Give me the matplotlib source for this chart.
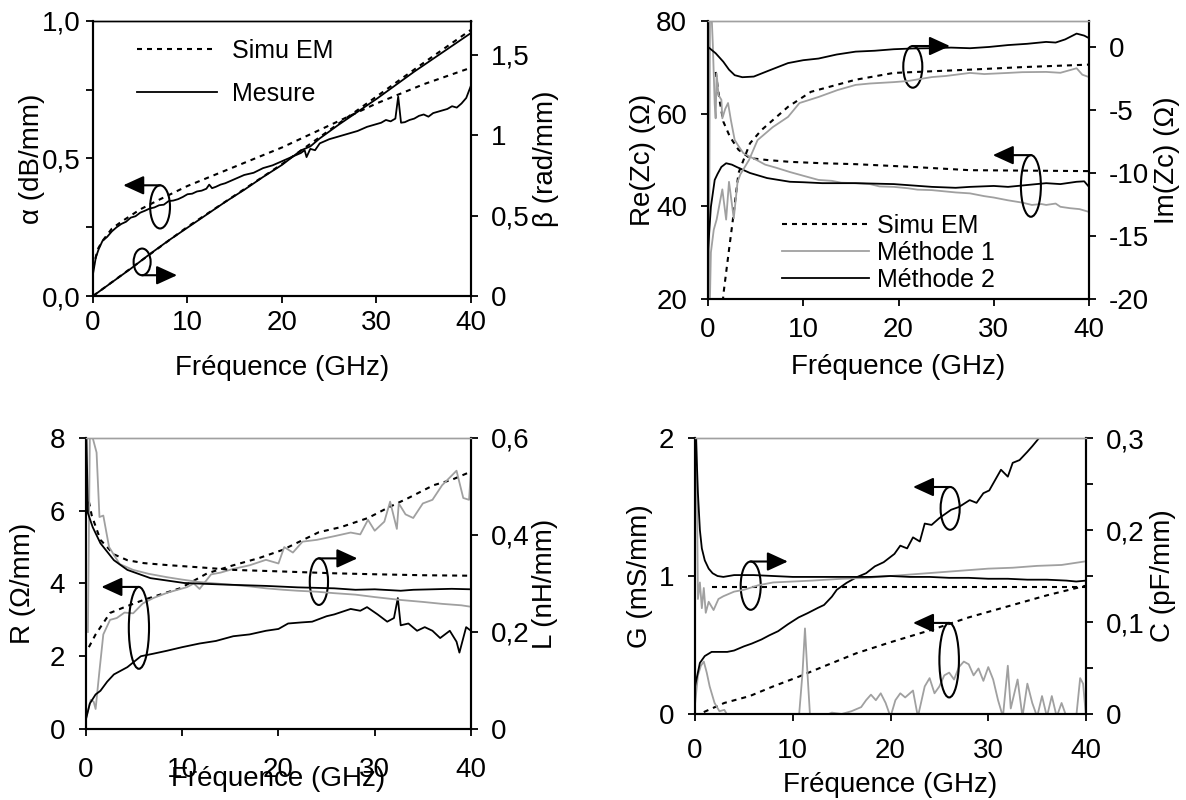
#!/usr/bin/env python3
"""Extraction des paramètres de ligne : alpha/beta, Zc, R/L, G/C (4 panneaux à double axe)."""

import matplotlib
matplotlib.use("Agg")
import matplotlib.pyplot as plt
from matplotlib.patches import Ellipse
from matplotlib.lines import Line2D
from matplotlib.ticker import FixedLocator, FixedFormatter

plt.rcParams["font.family"] = ["Liberation Sans", "DejaVu Sans"]
plt.rcParams["font.size"] = 18

GRAY = "#a0a0a0"
DASH = (2.4, 2.4)
TICK_FS = 20
LABEL_FS = 20

# ---------------- panneau 1 : alpha (dB/mm) / beta (rad/mm)
alpha_meas_f = [0, 0.3, 0.6, 1, 1.5, 2, 2.5, 3, 3.5, 4, 4.5, 5, 5.5, 6, 6.5, 7, 7.5, 8, 8.5, 9, 9.5, 10,
                10.5, 11, 11.5, 12, 12.3, 12.6, 13, 13.5, 14, 15, 16, 17, 18, 19, 20, 21, 22, 22.4, 22.6,
                23, 23.5, 24, 25, 26, 27, 28, 29, 30, 30.5, 31, 31.5, 32, 32.3, 32.6, 33, 33.5, 34, 34.5,
                35, 35.5, 36, 36.5, 37, 37.5, 38, 38.5, 39, 39.5, 40]
alpha_meas = [0.08, 0.14, 0.17, 0.2, 0.215, 0.235, 0.25, 0.262, 0.27, 0.285, 0.29, 0.303, 0.31, 0.318, 0.322,
              0.33, 0.332, 0.345, 0.347, 0.352, 0.36, 0.37, 0.372, 0.38, 0.383, 0.39, 0.405, 0.392, 0.397,
              0.405, 0.41, 0.425, 0.44, 0.448, 0.465, 0.475, 0.49, 0.505, 0.52, 0.53, 0.505, 0.535, 0.53,
              0.555, 0.57, 0.58, 0.59, 0.6, 0.615, 0.625, 0.63, 0.64, 0.635, 0.645, 0.725, 0.63, 0.632,
              0.64, 0.645, 0.655, 0.66, 0.652, 0.665, 0.67, 0.675, 0.68, 0.69, 0.685, 0.70, 0.72, 0.765]
alpha_sim_f = [0, 0.5, 1, 2, 3, 5, 7, 10, 15, 20, 25, 30, 35, 40]
alpha_sim = [0.1, 0.17, 0.2, 0.245, 0.27, 0.315, 0.35, 0.40, 0.47, 0.54, 0.62, 0.70, 0.77, 0.83]
beta_meas_f = [0, 2, 4, 6, 8, 10, 12, 14, 16, 18, 20, 21, 22, 23, 24, 26, 28, 30, 32, 34, 36, 38, 40]
beta_meas = [0, 0.085, 0.17, 0.26, 0.345, 0.425, 0.505, 0.585, 0.66, 0.74, 0.815, 0.86, 0.905, 0.93,
             0.98, 1.065, 1.145, 1.225, 1.31, 1.395, 1.475, 1.555, 1.635]
beta_sim_f = [0, 5, 10, 15, 20, 25, 30, 35, 40]
beta_sim = [0, 0.215, 0.43, 0.625, 0.82, 1.03, 1.24, 1.45, 1.655]

# ---------------- panneau 2 : Re(Zc) / Im(Zc) (ohm)
re_sim_f = [0.8, 1.0, 1.2, 1.6, 2.3, 3.2, 4.4, 6.2, 8.6, 12, 15.5, 21.5, 27.5, 34, 40]
re_sim = [69, 66, 63, 58.3, 55, 52.2, 50.4, 50, 49.6, 49.3, 49.1, 48.5, 47.8, 47.7, 47.6]
re_m1_f = [0.1, 0.2, 0.3, 0.5, 0.7, 0.8, 0.9, 1.1, 1.4, 1.5, 1.8, 2.1, 2.4, 2.8, 3.2, 3.7, 4.3, 5.1, 6,
           7.2, 8.6, 10, 11.6, 13, 14, 15.5, 17, 18, 19.5, 21, 22, 23.5, 25, 26, 27.5, 29, 30, 31.5, 33,
           34, 35, 35.5, 36.5, 37, 38, 39, 40]
re_m1 = [20, 80, 85, 75, 62, 59, 68.7, 64, 63, 59, 61, 62.3, 58.6, 54.3, 53, 51.5, 50.8, 50, 49, 48.3,
         47.4, 46.6, 45.7, 45.5, 45.1, 45, 44.8, 44.3, 44.2, 43.9, 43.6, 43.5, 43.2, 43.0, 42.8, 42.2,
         41.9, 41.3, 40.8, 40.3, 40.5, 40.3, 40.6, 39.9, 39.6, 39.4, 38.8]
re_m2_f = [0, 0.3, 0.7, 1.0, 1.4, 1.9, 2.5, 3.0, 4.4, 6.2, 8.6, 10, 12, 15.5, 19.5, 23.5, 26, 27.5, 30,
           31.5, 33, 35.5, 37, 38.7, 39.5, 40]
re_m2 = [30.6, 39.9, 45.7, 47, 48.5, 49.3, 49, 48.5, 47.2, 46.1, 45.3, 45.2, 45.0, 45, 44.8, 44.2, 44.0,
         44.2, 44.4, 44.2, 44.5, 45, 44.8, 45.3, 45.4, 44.2]
im_sim_f = [1.5, 1.6, 2.2, 2.6, 3.2, 4.4, 5.6, 8.4, 10.8, 15.5, 19.5, 27.5, 33, 40]
im_sim = [-21, -19.7, -16.1, -13.75, -10.0, -7.65, -6.6, -4.75, -3.56, -2.6, -2.06, -1.8, -1.6, -1.4]
im_m1_f = [0.2, 0.3, 0.6, 0.9, 1.2, 1.5, 1.9, 2.2, 2.7, 3.1, 3.4, 4.3, 5.2, 6.8, 8.4, 9.6, 11.6, 13.6,
           15.5, 17, 19.5, 21, 23.5, 25, 27.5, 29, 31.5, 33, 35.5, 37, 38.7, 39.3, 40]
im_m1 = [-20, -16.3, -14.5, -13.7, -12.5, -11.3, -13.7, -10.7, -13.6, -10.7, -10.1, -8.97, -7.39, -6.36,
         -5.55, -4.45, -3.97, -3.42, -3.01, -2.9, -2.79, -2.7, -2.39, -2.3, -2.06, -2.15, -2.06, -2.0,
         -1.98, -2.05, -1.69, -2.2, -2.39]
im_m2_f = [0, 0.8, 1.6, 2.2, 2.8, 3.6, 4.8, 6.4, 8.4, 10, 11.6, 13.5, 15.5, 17.5, 19.5, 21.5, 23.5,
           25.5, 27.5, 29.5, 31.5, 33.5, 35.5, 36.5, 37.5, 38.7, 39.5, 40]
im_m2 = [0.0, -0.5, -1.17, -1.8, -2.24, -2.4, -2.35, -1.87, -1.28, -1.05, -0.92, -0.6, -0.37, -0.3,
         -0.18, -0.12, -0.1, -0.05, -0.1, 0.0, 0.15, 0.25, 0.4, 0.35, 0.6, 1.06, 0.9, 0.7]

# ---------------- panneau 3 : R (ohm/mm) / L (nH/mm)
r_sim_f = [0.3, 1, 2.5, 4, 6, 8, 9.8, 12.6, 15.3, 18, 20.4, 24.2, 26.5, 29.3, 31.5, 33.5, 36.1, 38, 39.6, 40]
r_sim = [2.25, 2.6, 3.19, 3.35, 3.55, 3.72, 3.87, 4.28, 4.5, 4.7, 4.92, 5.41, 5.55, 5.8, 6.1, 6.35, 6.7,
         6.85, 7.03, 7.05]
r_m1_f = [0, 0.2, 0.5, 0.8, 1.0, 1.4, 1.8, 2.5, 3.2, 4.0, 4.9, 5.9, 7, 8.5, 10.5, 11.2, 11.8, 13, 14,
          15.3, 17, 18.7, 20, 20.6, 21.5, 22.5, 24, 25.8, 27.5, 28.5, 29.3, 30, 31.0, 31.6, 32.3, 32.5,
          33.2, 34, 35, 36, 37, 38.5, 39.2, 39.8, 40]
r_m1 = [0.3, 0.5, 0.8, 0.75, 0.55, 1.6, 2.6, 3.0, 3.05, 3.2, 3.18, 3.45, 3.6, 3.75, 3.9, 4.0, 3.85, 4.25,
        4.3, 4.4, 4.5, 4.65, 4.55, 5.0, 4.85, 5.15, 5.2, 5.3, 5.4, 5.35, 5.75, 5.45, 5.7, 6.25, 5.5, 6.2,
        5.9, 5.8, 6.2, 6.3, 6.7, 7.1, 6.35, 6.3, 7.1]
r_m2_f = [0, 0.4, 1.0, 1.5, 2.2, 2.9, 3.6, 4.3, 5.0, 5.7, 7, 8.4, 10, 11.8, 13.5, 15.3, 17, 18.7, 20, 21,
          22.4, 23.5, 25, 25.8, 27.5, 28.5, 29.2, 30.3, 31.3, 32.0, 32.4, 32.7, 33.5, 34.4, 35.2, 36,
          36.8, 37.8, 38.5, 38.8, 39.5, 40]
r_m2 = [0.27, 0.7, 0.95, 1.05, 1.3, 1.5, 1.6, 1.7, 1.85, 2.0, 2.07, 2.15, 2.25, 2.35, 2.42, 2.55, 2.6,
        2.7, 2.75, 2.9, 2.93, 2.95, 3.1, 3.15, 3.3, 3.25, 3.35, 3.15, 2.95, 3.05, 3.6, 2.85, 2.9, 2.7,
        2.8, 2.7, 2.5, 2.7, 2.4, 2.1, 2.8, 2.7]
l_sim_f = [0.3, 0.6, 1.5, 2.9, 4.3, 6, 8.4, 12, 15.3, 20, 25.8, 30, 35, 40]
l_sim = [0.469, 0.44, 0.39, 0.36, 0.348, 0.342, 0.338, 0.333, 0.328, 0.325, 0.321, 0.319, 0.317, 0.316]
l_m1_f = [0.2, 0.4, 0.7, 1.1, 1.4, 1.8, 2.4, 3.5, 4.9, 6.5, 8.4, 10, 11.8, 13.5, 15.3, 17, 18.7, 20.5,
          22, 24, 25.8, 28, 30, 32.7, 35, 37, 39, 40]
l_m1 = [0.2, 0.6, 0.6, 0.57, 0.437, 0.44, 0.375, 0.34, 0.328, 0.32, 0.313, 0.308, 0.303, 0.300, 0.297,
        0.294, 0.29, 0.287, 0.285, 0.283, 0.28, 0.277, 0.272, 0.266, 0.262, 0.258, 0.255, 0.252]
l_m2_f = [0.05, 0.2, 0.7, 1.5, 2.9, 4.3, 6.7, 10.2, 14, 18.7, 22, 25.8, 28, 30, 32.7, 34, 36, 38, 40]
l_m2 = [0.6, 0.445, 0.416, 0.383, 0.348, 0.328, 0.311, 0.301, 0.298, 0.295, 0.292, 0.29, 0.287, 0.288,
        0.285, 0.287, 0.288, 0.289, 0.288]

# ---------------- panneau 4 : G (mS/mm) / C (pF/mm)
g_sim_f = [0.9, 3, 5.6, 8, 10.6, 13, 16.5, 20, 24.2, 28, 32, 36, 40]
g_sim = [0.014, 0.08, 0.13, 0.2, 0.27, 0.34, 0.44, 0.52, 0.61, 0.7, 0.78, 0.86, 0.93]
g_m1_f = [0, 0.3, 0.6, 0.9, 1.2, 1.5, 2.0, 2.5, 3.0, 3.5, 4.0, 10.6, 11.0, 11.25, 11.5, 11.8, 13, 14, 15,
          16, 17, 17.5, 18, 18.5, 19, 19.5, 20, 20.5, 21, 21.5, 22.3, 22.8, 23.5, 24, 24.5, 25, 25.5, 26,
          26.5, 27, 27.5, 28, 28.5, 29, 29.5, 30, 30.5, 31, 31.5, 32, 32.3, 33, 33.5, 34, 34.5, 35, 35.5,
          36, 36.5, 37, 37.5, 38, 39, 39.4, 39.7, 40]
g_m1 = [0.07, 0.28, 0.35, 0.38, 0.3, 0.2, 0.08, 0.02, 0.03, -0.03, -0.05, -0.05, 0.3, 0.62, 0.3, -0.05,
        -0.02, 0.01, 0.0, 0.02, 0.05, 0.1, 0.14, 0.1, 0.15, 0.08, -0.02, 0.1, 0.15, 0.12, 0.17, -0.02,
        0.2, 0.26, 0.15, 0.2, 0.28, 0.3, 0.25, 0.34, 0.38, 0.36, 0.28, 0.33, 0.24, 0.34, 0.25, 0.1, -0.02,
        0.35, 0.04, 0.25, -0.02, 0.22, 0.08, -0.02, 0.13, -0.02, 0.13, -0.02, 0.08, -0.02, -0.02, 0.26,
        0.22, -0.02]
g_m2_f = [0, 0.5, 1.0, 1.7, 2.5, 3.3, 4.0, 5.0, 5.8, 6.8, 7.6, 8.5, 9.5, 10.6, 11.5, 12.6, 13.2, 14, 14.5,
          15.5, 16.5, 17.5, 18.4, 19.3, 20.4, 21, 21.7, 22.3, 23, 23.5, 24.2, 25, 26.2, 27, 28.1, 28.8,
          29.5, 30.1, 31.3, 32, 32.5, 33.2, 34, 34.5, 35.2, 36, 37]
g_m2 = [0.2, 0.37, 0.42, 0.45, 0.45, 0.45, 0.46, 0.49, 0.51, 0.54, 0.57, 0.6, 0.65, 0.70, 0.73, 0.77,
        0.79, 0.85, 0.9, 0.95, 0.99, 1.02, 1.07, 1.1, 1.16, 1.22, 1.2, 1.28, 1.25, 1.38, 1.37, 1.42, 1.48,
        1.5, 1.55, 1.53, 1.60, 1.62, 1.77, 1.72, 1.82, 1.84, 1.9, 1.94, 2.0, 2.05, 2.1]
c_sim_f = [1.7, 40]
c_sim = [0.138, 0.138]
c_m1_f = [0.15, 0.3, 0.5, 0.7, 0.9, 1.1, 1.4, 1.9, 2.4, 2.9, 4, 5, 6.5, 8, 10, 12, 15, 17.5, 20, 22.5,
          25, 27.5, 30, 32.5, 35, 37.5, 40]
c_m1 = [0.3, 0.125, 0.143, 0.115, 0.137, 0.11, 0.122, 0.113, 0.125, 0.128, 0.133, 0.135, 0.14, 0.143,
        0.144, 0.145, 0.147, 0.148, 0.15, 0.152, 0.154, 0.156, 0.158, 0.159, 0.161, 0.162, 0.166]
c_m2_f = [0.1, 0.3, 0.5, 0.7, 1.0, 1.4, 1.8, 2.3, 2.9, 4.0, 6, 8, 10, 12, 14, 16, 18, 20, 22, 24, 26, 28,
          30, 32, 34, 36, 38, 39, 40]
c_m2 = [0.3, 0.24, 0.2, 0.18, 0.167, 0.158, 0.153, 0.15, 0.149, 0.151, 0.151, 0.15, 0.149, 0.149, 0.149,
        0.149, 0.149, 0.15, 0.149, 0.149, 0.148, 0.148, 0.147, 0.147, 0.146, 0.146, 0.145, 0.144, 0.145]

# ---------------- graduations
x_ticks = [0, 10, 20, 30, 40]
x_labels = ["0", "10", "20", "30", "40"]
p1_left_ticks, p1_left_labels = [0, 0.5, 1.0], ["0,0", "0,5", "1,0"]
p1_right_ticks, p1_right_labels = [0, 0.5, 1.0, 1.5], ["0", "0,5", "1", "1,5"]
p2_left_ticks, p2_left_labels = [20, 40, 60, 80], ["20", "40", "60", "80"]
p2_right_ticks, p2_right_labels = [-20, -15, -10, -5, 0], ["-20", "-15", "-10", "-5", "0"]
p3_left_ticks, p3_left_labels = [0, 2, 4, 6, 8], ["0", "2", "4", "6", "8"]
p3_right_ticks, p3_right_labels = [0, 0.2, 0.4, 0.6], ["0", "0,2", "0,4", "0,6"]
p4_left_ticks, p4_left_labels = [0, 1, 2], ["0", "1", "2"]
p4_right_ticks, p4_right_labels = [0, 0.1, 0.2, 0.3], ["0", "0,1", "0,2", "0,3"]


def setup(ax, ax2, ylim, ylim2, lt, ll, rt, rl, top_color, xpad, xlabelpad, lpad):
    ax.set_xlim(0, 40)
    ax.set_ylim(*ylim)
    ax2.set_ylim(*ylim2)
    ax.xaxis.set_major_locator(FixedLocator(x_ticks))
    ax.xaxis.set_major_formatter(FixedFormatter(x_labels))
    ax.yaxis.set_major_locator(FixedLocator(lt))
    ax.yaxis.set_major_formatter(FixedFormatter(ll))
    ax2.yaxis.set_major_locator(FixedLocator(rt))
    ax2.yaxis.set_major_formatter(FixedFormatter(rl))
    for a in (ax, ax2):
        a.tick_params(direction="out", length=5, width=1.3, pad=4, labelsize=TICK_FS)
        for s in a.spines.values():
            s.set_linewidth(1.5)
        a.spines["top"].set_color(top_color)
        a.spines["top"].set_linewidth(1.0)
    ax.xaxis.set_tick_params(pad=xpad)
    ax.yaxis.set_tick_params(pad=lpad)
    ax2.yaxis.set_tick_params(pad=9)
    ax.set_xlabel("Fréquence (GHz)", labelpad=xlabelpad, fontsize=LABEL_FS)


def bracket(ax, cx, cy, w, h, x_end):
    # ellipse + flèche horizontale partant du haut de l'ellipse
    ax.add_patch(Ellipse((cx, cy), w, h, fill=False, lw=1.5, ec="k", zorder=6))
    ax.annotate("", xy=(x_end, cy + h / 2), xytext=(cx, cy + h / 2),
                arrowprops=dict(arrowstyle="-|>,head_length=0.7,head_width=0.32", lw=1.5,
                                color="k", shrinkA=0, shrinkB=0, mutation_scale=18), zorder=6)


def bracket_low(ax, cx, cy, w, h, x_end):
    ax.add_patch(Ellipse((cx, cy), w, h, fill=False, lw=1.5, ec="k", zorder=6))
    ax.annotate("", xy=(x_end, cy - h / 2), xytext=(cx, cy - h / 2),
                arrowprops=dict(arrowstyle="-|>,head_length=0.7,head_width=0.32", lw=1.5,
                                color="k", shrinkA=0, shrinkB=0, mutation_scale=18), zorder=6)


fig = plt.figure(figsize=(11.86, 8.0), dpi=100)

# ---- panneau 1
ax1 = fig.add_axes([0.0784, 0.63, 0.3187, 0.3438])
ax1b = ax1.twinx()
setup(ax1, ax1b, (0, 1.0), (0, 1.71), p1_left_ticks, p1_left_labels, p1_right_ticks, p1_right_labels,
      "k", 5, 14, 4)
ax1.yaxis.set_minor_locator(FixedLocator([0.25, 0.75]))
ax1.tick_params(which="minor", direction="out", length=5, width=1.3)
ax1.plot(alpha_sim_f, alpha_sim, "k", lw=1.5, dashes=DASH)
ax1.plot(alpha_meas_f, alpha_meas, "k", lw=1.3)
ax1b.plot(beta_sim_f, beta_sim, "k", lw=1.5, dashes=DASH)
ax1b.plot(beta_meas_f, beta_meas, "k", lw=1.3)
ax1.set_ylabel("α (dB/mm)", labelpad=-2, fontsize=LABEL_FS)
ax1b.set_ylabel("β (rad/mm)", labelpad=3, fontsize=LABEL_FS)
bracket(ax1, 7.1, 0.324, 2.1, 0.157, 3.2)
bracket_low(ax1, 5.2, 0.124, 1.8, 0.097, 8.9)
h1 = [Line2D([], [], color="k", lw=1.5, dashes=DASH), Line2D([], [], color="k", lw=1.3)]
ax1.legend(h1, ["Simu EM", "Mesure"], loc="upper left", bbox_to_anchor=(0.116, 0.935), frameon=False,
           borderpad=0, borderaxespad=0, handlelength=3.2, handletextpad=0.6, labelspacing=0.75)

# ---- panneau 2
ax2 = fig.add_axes([0.597, 0.62625, 0.3212, 0.3475])
ax2b = ax2.twinx()
setup(ax2, ax2b, (20, 80), (-20, 2.06), p2_left_ticks, p2_left_labels, p2_right_ticks, p2_right_labels,
      GRAY, 8, 8, 10)
ax2.plot(re_sim_f, re_sim, "k", lw=1.5, dashes=DASH)
ax2.plot(re_m1_f, re_m1, color=GRAY, lw=1.3)
ax2.plot(re_m2_f, re_m2, "k", lw=1.3)
ax2b.plot(im_sim_f, im_sim, "k", lw=1.5, dashes=DASH)
ax2b.plot(im_m1_f, im_m1, color=GRAY, lw=1.3)
ax2b.plot(im_m2_f, im_m2, "k", lw=1.3)
ax2.set_ylabel("Re(Zc) (Ω)", labelpad=0, fontsize=LABEL_FS)
ax2b.set_ylabel("Im(Zc) (Ω)", labelpad=4, fontsize=LABEL_FS)
bracket(ax2, 21.5, 70.1, 2.0, 9.0, 25.4)
bracket(ax2, 33.9, 44.4, 2.1, 13.3, 29.9)
h2 = [Line2D([], [], color="k", lw=1.5, dashes=DASH), Line2D([], [], color=GRAY, lw=1.3),
      Line2D([], [], color="k", lw=1.3)]
ax2.legend(h2, ["Simu EM", "Méthode 1", "Méthode 2"], loc="upper left", bbox_to_anchor=(0.194, 0.307),
           frameon=False, borderpad=0, borderaxespad=0, handlelength=3.5, handletextpad=0.3,
           labelspacing=0.12)

# ---- panneau 3
ax3 = fig.add_axes([0.0725, 0.08875, 0.3246, 0.3638])
ax3b = ax3.twinx()
setup(ax3, ax3b, (0, 8), (0, 0.6), p3_left_ticks, p3_left_labels, p3_right_ticks, p3_right_labels,
      GRAY, 15, -12, 10)
ax3.plot(r_sim_f, r_sim, "k", lw=1.5, dashes=DASH)
ax3.plot(r_m1_f, r_m1, color=GRAY, lw=1.3)
ax3.plot(r_m2_f, r_m2, "k", lw=1.3)
ax3b.plot(l_sim_f, l_sim, "k", lw=1.5, dashes=DASH)
ax3b.plot(l_m1_f, l_m1, color=GRAY, lw=1.3)
ax3b.plot(l_m2_f, l_m2, "k", lw=1.3)
ax3.set_ylabel("R (Ω/mm)", labelpad=10, fontsize=LABEL_FS)
ax3b.set_ylabel("L (nH/mm)", labelpad=2, fontsize=LABEL_FS)
bracket(ax3, 5.5, 2.78, 2.1, 2.25, 1.6)
bracket(ax3, 24.2, 4.05, 1.9, 1.28, 28.2)

# ---- panneau 4
ax4 = fig.add_axes([0.586, 0.1075, 0.3297, 0.345])
ax4b = ax4.twinx()
setup(ax4, ax4b, (0, 2), (0, 0.3), p4_left_ticks, p4_left_labels, p4_right_ticks, p4_right_labels,
      GRAY, 12, 6, 10)
ax4b.yaxis.set_minor_locator(FixedLocator([0.05, 0.15, 0.25]))
ax4b.tick_params(which="minor", direction="out", length=5, width=1.3)
ax4.plot(g_sim_f, g_sim, "k", lw=1.5, dashes=DASH)
ax4.plot(g_m1_f, g_m1, color=GRAY, lw=1.3)
ax4.plot(g_m2_f, g_m2, "k", lw=1.3)
ax4b.plot(c_sim_f, c_sim, "k", lw=1.5, dashes=DASH)
ax4b.plot(c_m1_f, c_m1, color=GRAY, lw=1.3)
ax4b.plot(c_m2_f, c_m2, "k", lw=1.3)
ax4.set_ylabel("G (mS/mm)", labelpad=4, fontsize=LABEL_FS)
ax4b.set_ylabel("C (pF/mm)", labelpad=4, fontsize=LABEL_FS)
bracket(ax4, 5.7, 0.93, 2.05, 0.35, 9.5)
bracket(ax4, 26.1, 1.49, 1.95, 0.31, 22.3)
bracket(ax4, 26.0, 0.39, 2.0, 0.54, 22.3)

fig.savefig("out.png", dpi=100)
